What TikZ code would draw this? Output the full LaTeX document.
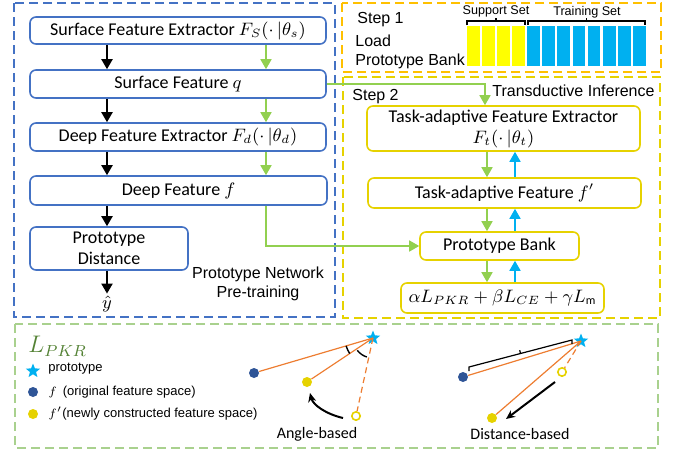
\documentclass[tikz,border=0pt]{standalone}
\usepackage{fontspec}
\setmainfont{Carlito}
\newfontfamily\arialfont{Liberation Sans}
\usepackage{xcolor}
\usepackage{tikz}
\usetikzlibrary{arrows.meta,positioning,shapes}

\definecolor{boxblue}{RGB}{68,114,196}
\definecolor{boxyellow}{RGB}{230,210,0}
\definecolor{steporange}{RGB}{255,192,0}
\definecolor{flowgreen}{RGB}{146,208,80}
\definecolor{palegreen}{RGB}{169,209,142}
\definecolor{darkgreen}{RGB}{84,130,53}
\definecolor{skyblue}{RGB}{0,176,240}
\definecolor{lineorange}{RGB}{237,125,49}
\definecolor{dotblue}{RGB}{47,85,151}
\definecolor{baryellow}{RGB}{255,255,0}

\tikzset{
  bluebox/.style={draw=boxblue, line width=0.8pt, rounded corners=3pt, inner sep=0pt, font=\fontsize{9}{10.5}\selectfont},
  yelbox/.style={draw=boxyellow, line width=0.8pt, rounded corners=3pt, inner sep=0pt, font=\fontsize{9}{10.5}\selectfont},
  blkarrow/.style={line width=1pt, -{Triangle[width=5.5pt,length=5pt]}},
  grnarrow/.style={flowgreen, line width=0.8pt, -{Triangle[width=5.5pt,length=5pt]}},
  cyanarrow/.style={skyblue, line width=0.8pt, -{Triangle[width=5.5pt,length=5pt]}},
  stage/.style={line width=1pt, dash pattern=on 4.5pt off 2.5pt},
  arial/.style={font=\arialfont\fontsize{8}{10}\selectfont, inner sep=0pt},
  legend/.style={font=\arialfont\fontsize{6.5}{8}\selectfont, inner sep=0pt, anchor=west},
  protostar/.style={star, star points=5, star point ratio=2.3, fill=skyblue, inner sep=0pt, minimum size=7.5pt},
  olddot/.style={circle, fill=dotblue, inner sep=0pt, minimum size=5pt},
  newdot/.style={circle, fill=boxyellow, inner sep=0pt, minimum size=5pt},
  opendot/.style={circle, draw=boxyellow, fill=white, line width=0.8pt, inner sep=0pt, minimum size=4.2pt},
  proline/.style={lineorange, line width=0.6pt},
  moved/.style={line width=1pt, -{Stealth[length=4.5pt,width=4pt]}}
}

\begin{document}
\begin{tikzpicture}[x=0.5pt,y=-0.5pt]
\useasboundingbox (0,0) rectangle (675,450);

% stage frames
\draw[stage, boxblue] (14,3) rectangle (335,317);
\draw[stage, steporange] (342,3) rectangle (661,72);
\draw[stage, boxyellow] (343,77) rectangle (660,318);
\draw[stage, palegreen] (15,324) rectangle (658,448);

% pre-training column
\node[bluebox, minimum width=148pt, minimum height=13.5pt] (fs) at (178,30.5) {Surface Feature Extractor $F_S(\cdot\,|\theta_s)$};
\node[bluebox, minimum width=148pt, minimum height=14pt] (sf) at (178,84) {Surface Feature $q$};
\node[bluebox, minimum width=148pt, minimum height=14pt] (fd) at (178,137) {Deep Feature Extractor $F_d(\cdot\,|\theta_d)$};
\node[bluebox, minimum width=148.5pt, minimum height=14.5pt] (df) at (178.5,190.5) {Deep Feature $f$};
\node[bluebox, minimum width=79pt, minimum height=21.5pt, align=center] (pd) at (109,248.5) {Prototype\\Distance};
\node[font=\fontsize{9}{10.5}\selectfont, inner sep=1pt] (yhat) at (107,304) {$\hat{y}$};
\node[arial, align=center] (pnet) at (258,283.5) {Prototype Network\\[-0.5pt]Pre-training};

\coordinate (bx) at (107,0);
\coordinate (gx) at (266,0);
\foreach \a/\b in {fs/sf, sf/fd, fd/df, df/pd}
  \draw[blkarrow] (\a.south -| bx) -- (\b.north -| bx);
\draw[blkarrow] (pd.south -| bx) -- (yhat.north);
\foreach \a/\b in {fs/sf, sf/fd, fd/df}
  \draw[grnarrow] (\a.south -| gx) -- (\b.north -| gx);

% step 1: prototype bank
\node[arial, anchor=west] (s1) at (357,20) {Step 1};
\node[arial, anchor=west] (ld) at (355,41) {Load};
\node[arial, anchor=west] (lpb) at (355,61) {Prototype Bank};
\foreach \i in {0,...,3}
  \fill[baryellow] (467+15*\i,26) rectangle +(12.5,40);
\foreach \i in {0,...,7}
  \fill[skyblue] (527+15.2*\i,26) rectangle +(12.5,40);
\draw[line width=0.6pt] (467,25) -- (467,21) -- (525,21) -- (525,25);
\draw[line width=0.6pt] (496,21) -- (496,18);
\draw[line width=0.6pt] (528,25) -- (528,21) -- (645,21) -- (645,25);
\draw[line width=0.6pt] (586.5,21) -- (586.5,18);
\node[font=\arialfont\fontsize{6.3}{8}\selectfont, inner sep=0pt] (sup) at (496,11) {Support Set};
\node[font=\arialfont\fontsize{6.3}{8}\selectfont, inner sep=0pt] (trn) at (587,12) {Training Set};

% step 2: transductive inference
\node[arial, anchor=west] (s2) at (352,97) {Step 2};
\node[arial, anchor=west] (ti) at (492,91) {Transductive Inference};
\node[yelbox, minimum width=136.5pt, minimum height=22.5pt, align=center] (tfe) at (503.5,128.5) {Task-adaptive Feature Extractor\\$F_t(\cdot\,|\theta_t)$};
\node[yelbox, minimum width=136.5pt, minimum height=15pt] (tf) at (504.5,193) {Task-adaptive Feature $f'$};
\node[yelbox, minimum width=79.5pt, minimum height=14pt] (pb) at (499.5,246) {Prototype Bank};
\node[yelbox, minimum width=101.5pt, minimum height=15pt] (loss) at (502.5,298) {$\alpha L_{PKR}+\beta L_{CE}+\gamma L_{\mathrm{m}}$};

\coordinate (rg) at (487,0);
\coordinate (rc) at (515,0);
\coordinate (tx) at (485,0);
\foreach \a/\b in {tfe/tf, tf/pb, pb/loss} {
  \draw[grnarrow] (\a.south -| rg) -- (\b.north -| rg);
  \draw[cyanarrow] (\b.north -| rc) -- (\a.south -| rc);
}
\draw[grnarrow] (sf.east) -| (tfe.north -| tx);
\draw[grnarrow] (df.south -| gx) |- (pb.west);

% PKR loss legend
\node[font=\fontsize{12}{14}\selectfont, text=darkgreen, anchor=west, inner sep=0pt] (lpkr) at (28,346) {$L_{PKR}$};
\node[protostar] (s0) at (33,371) {};
\node[legend] (l0) at (48,369) {prototype};
\node[olddot] (b0) at (33,392) {};
\node[legend] (l1) at (48,392) {$f$\, (original feature space)};
\node[newdot] (y0) at (33,414) {};
\node[legend] (l2) at (48,414) {$f'$(newly constructed feature space)};

% angle-based
\node[protostar] (sa) at (373,338) {};
\node[olddot] (ba) at (254,373) {};
\node[newdot] (ya) at (307,382) {};
\node[opendot] (oa) at (356,416) {};
\draw[proline] (sa.center) -- (ba);
\draw[proline] (sa.center) -- (ya);
\draw[proline, dash pattern=on 3pt off 2pt] (sa.center) -- (oa);
\draw[line width=0.7pt] ([shift={(196.4:14pt)}]sa.center) arc[start angle=196.4, end angle=213.7, radius=14pt];
\draw[line width=0.7pt] ([shift={(218:10pt)}]sa.center) arc[start angle=218, end angle=252, radius=10pt];
\coordinate (ca1) at (343,418);
\coordinate (ca2) at (310,393);
\draw[moved] (ca1) .. controls (326,414) and (313,405) .. (ca2);
\node[font=\fontsize{8}{10}\selectfont, inner sep=0pt] (ang) at (317,434) {Angle-based};

% distance-based
\node[protostar] (sd) at (581,341) {};
\node[olddot] (bd) at (463,377) {};
\node[newdot] (yd) at (492,418) {};
\node[opendot] (od) at (562,372) {};
\draw[proline] (sd.center) -- (bd);
\draw[proline] (sd.center) -- (yd);
\draw[proline, dash pattern=on 3pt off 2pt] (sd.center) -- (od);
\draw[line width=0.6pt] (469,371) -- (469,367) -- (572,340) -- (572,344);
\draw[line width=0.6pt] (520.5,353.5) -- (519.7,350.2);
\coordinate (da1) at (555,382);
\coordinate (da2) at (506,419);
\draw[moved] (da1) -- (da2);
\node[font=\fontsize{8}{10}\selectfont, inner sep=0pt] (dst) at (520,434) {Distance-based};
\end{tikzpicture}
\end{document}
